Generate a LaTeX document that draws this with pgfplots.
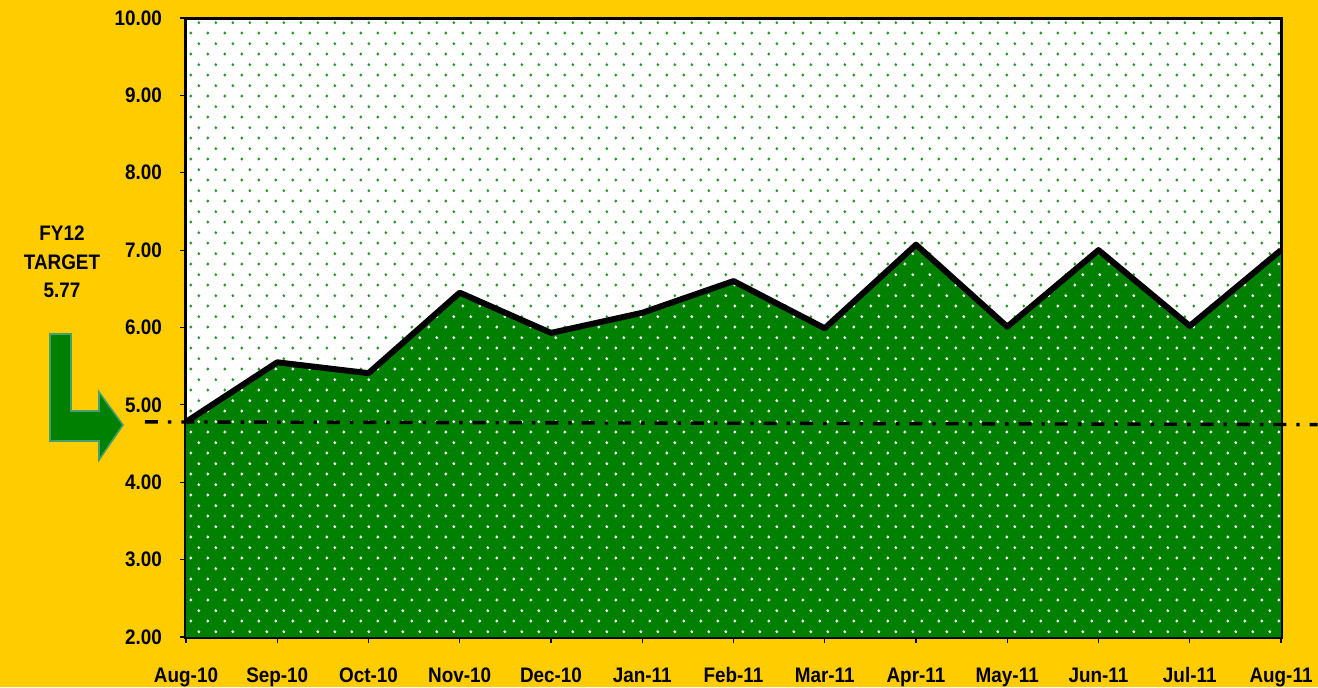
\documentclass[border=0pt]{standalone}
\usepackage{fontspec}
\setmainfont{Liberation Sans}[FakeStretch=0.9]
\usepackage{pgfplots}
\pgfplotsset{compat=1.18}
\usetikzlibrary{patterns}

\definecolor{bgorange}{RGB}{255,204,0}
\definecolor{fillgreen}{RGB}{0,128,0}
\definecolor{dotgreen}{RGB}{40,150,40}
\definecolor{arrowedge}{RGB}{70,160,110}

% staggered dot pattern like the excel fill
\pgfdeclarepatternformonly{sdots}{\pgfqpoint{0pt}{0pt}}{\pgfqpoint{8.5pt}{10.4pt}}{\pgfqpoint{8.5pt}{10.4pt}}{
  \pgfpathcircle{\pgfqpoint{2pt}{2pt}}{0.8pt}
  \pgfpathcircle{\pgfqpoint{6.25pt}{7.2pt}}{0.8pt}
  \pgfusepath{fill}
}

\begin{document}
\begin{tikzpicture}
\path[use as bounding box, fill=bgorange] (-93pt,-25pt) rectangle (566pt,318.5pt);
\begin{axis}[
    at={(0,0)}, anchor=south west,
    scale only axis,
    width=547.5pt, height=309.5pt,
    xmin=0, xmax=12, ymin=2, ymax=10,
    clip=false,
    xtick={0,...,12},
    xticklabels={Aug-10,Sep-10,Oct-10,Nov-10,Dec-10,Jan-11,Feb-11,Mar-11,Apr-11,May-11,Jun-11,Jul-11,Aug-11},
    ytick={2,...,10},
    /pgf/number format/fixed,
    /pgf/number format/fixed zerofill,
    /pgf/number format/precision=2,
    /pgf/number format/assume math mode=true,
    xtick pos=bottom, ytick pos=left,
    tick align=outside,
    major tick length=3pt,
    tick style={black, line width=0.6pt},
    ticklabel style={font=\fontsize{10.5}{11}\selectfont\bfseries},
    xticklabel style={yshift=-8.5pt, text height=7.6pt, text depth=2pt},
    yticklabel style={xshift=-5.5pt},
    axis line style={black, line width=1.5pt},
    axis background/.style={fill=white, postaction={pattern=sdots, pattern color=dotgreen}},
]
% green area
\addplot[draw=none, fill=fillgreen, postaction={pattern=sdots, pattern color=white}]
  coordinates {(0,2) (0,4.78) (1,5.55) (2,5.41) (3,6.45) (4,5.93) (5,6.19) (6,6.60)
               (7,5.99) (8,7.07) (9,6.01) (10,7.00) (11,6.02) (12,7.00) (12,2)} -- cycle;
% outline
\addplot[black, line width=3pt, line join=round]
  coordinates {(0,4.78) (1,5.55) (2,5.41) (3,6.45) (4,5.93) (5,6.19) (6,6.60)
               (7,5.99) (8,7.07) (9,6.01) (10,7.00) (11,6.02) (12,7.00)};
% dash-dot line
\addplot[black, line width=1.7pt, dash pattern=on 6.5pt off 5pt on 1.7pt off 5pt]
  coordinates {(-0.45,4.78) (12.4,4.745)};
\end{axis}
% target text and arrow
\node[align=center, font=\fontsize{10.5}{14.25}\selectfont\bfseries] at (-62pt,187.5pt) {FY12\\TARGET\\5.77};
\filldraw[fill=fillgreen, draw=arrowedge, line width=0.8pt]
  (-68pt,151.5pt) -- (-57.5pt,151.5pt) -- (-57.5pt,113pt) -- (-43.5pt,113pt) -- (-43.5pt,122.5pt)
  -- (-31.5pt,106pt) -- (-43.5pt,88.5pt) -- (-43.5pt,98pt) -- (-68pt,98pt) -- cycle;
\end{tikzpicture}
\end{document}
